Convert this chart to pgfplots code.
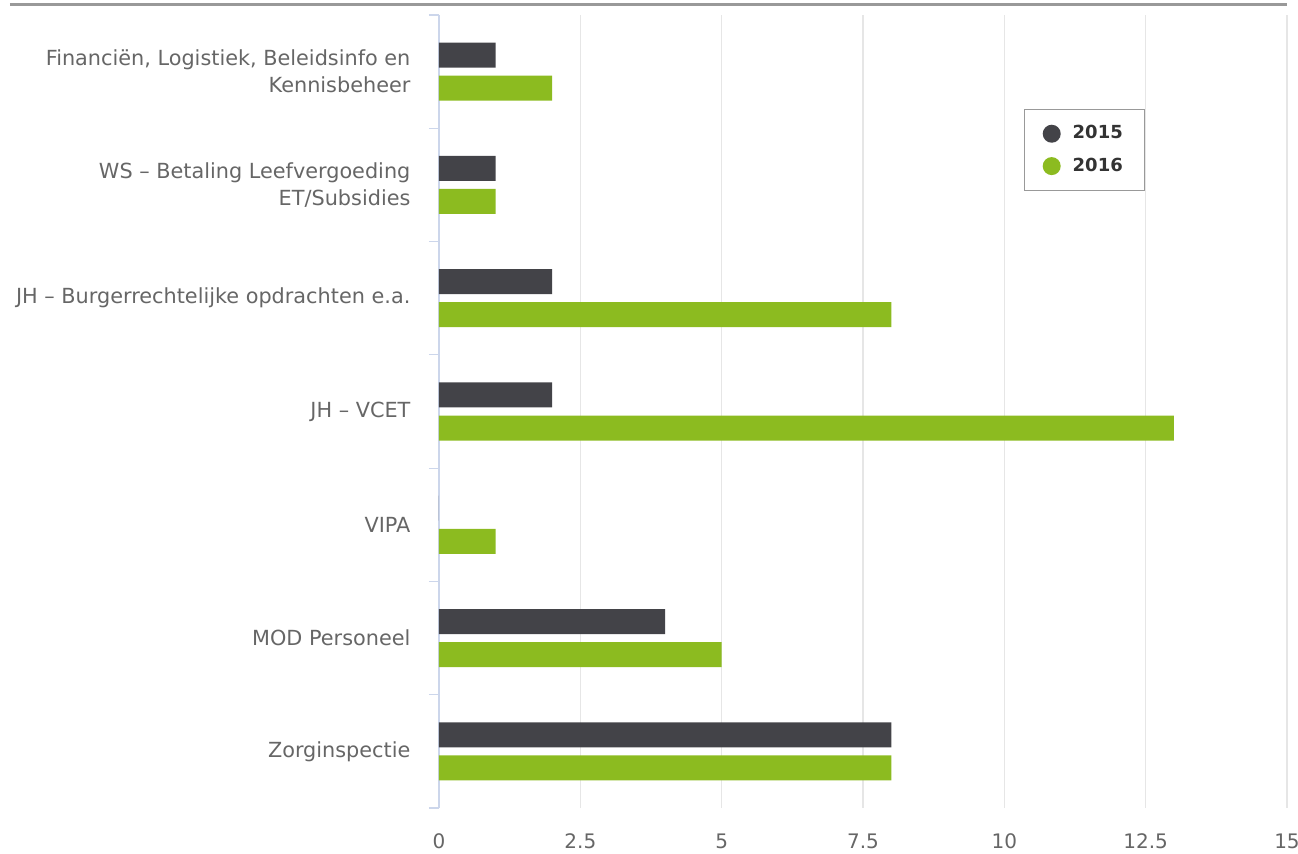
\documentclass[border=0pt]{standalone}
\usepackage{fontspec}
\setmainfont{DejaVu Sans}
\usepackage{pgfplots}
\pgfplotsset{compat=1.18}
\definecolor{dark}{HTML}{434348}
\definecolor{green}{HTML}{8CBB20}
\definecolor{axisblue}{HTML}{CCD6EB}
\definecolor{gridc}{HTML}{E6E6E6}
\definecolor{labc}{HTML}{666666}
\begin{document}
\begin{tikzpicture}
\path[use as bounding box] (-219.5pt,-23pt) rectangle (429.5pt,404pt);
\draw[color=black!40, line width=1.5pt] (-214.5pt,401.5pt) -- (424pt,401.5pt);
\begin{axis}[
  scale only axis,
  width=424pt, height=396.5pt,
  xmin=0, xmax=15,
  ymin=-0.5, ymax=6.5,
  xbar, bar width=12.5pt, bar shift=0pt,
  axis line style={draw=none},
  axis y line*=left,
  y axis line style={draw=axisblue, line width=0.6pt},
  xtick={0,2.5,...,15},
  xticklabels={0,2.5,5,7.5,10,12.5,15},
  xmajorgrids, grid style={gridc, line width=0.6pt},
  major x tick style={draw=none},
  ytick={0,...,6},
  yticklabels={Zorginspectie, MOD Personeel, VIPA, JH – VCET, JH – Burgerrechtelijke opdrachten e.a., {WS – Betaling Leefvergoeding\\ET/Subsidies}, {Financiën, Logistiek, Beleidsinfo en\\Kennisbeheer}},
  major y tick style={draw=none},
  minor ytick={-0.5,0.5,...,6.5},
  minor y tick style={axisblue, line width=0.6pt},
  minor tick length=5pt,
  tick align=outside,
  yticklabel style={align=right, font=\fontsize{10.4}{13.5}\selectfont, text=labc, xshift=-6.5pt},
  xticklabel style={font=\fontsize{10}{11}\selectfont, text=labc, yshift=-5pt},
  /pgf/number format/assume math mode=true,
  legend style={at={(rel axis cs:0.69,0.8815)}, anchor=north west, draw=black!40, line width=0.6pt,
    font=\fontsize{9}{11}\selectfont\bfseries, text=black!80, inner xsep=9pt, inner ysep=6pt, row sep=4pt},
  legend cell align=left,
]
\addplot[fill=dark, draw=none, legend image code/.code={\fill[dark] (0.25em,0) circle (4.5pt);}] coordinates {
  (8,0.146) (4,1.146) (0,2.146) (2,3.146) (2,4.146) (1,5.146) (1,6.146)};
\addlegendentry{\hspace{4pt}2015}
\addplot[fill=green, draw=none, legend image code/.code={\fill[green] (0.25em,0) circle (4.5pt);}] coordinates {
  (8,-0.146) (5,0.854) (1,1.854) (13,2.854) (8,3.854) (1,4.854) (2,5.854)};
\addlegendentry{\hspace{4pt}2016}
\end{axis}
\end{tikzpicture}
\end{document}
